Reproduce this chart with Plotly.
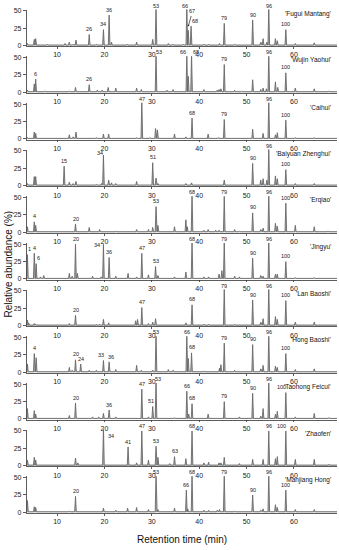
import plotly.graph_objects as go

# ---------------- data ----------------
samples = ["'Fugui Mantang'", "'Wujin Yaohui'", "'Caihui'", "'Baiyuan Zhenghui'",
           "'Erqiao'", "'Jingyu'", "'Lan Baoshi'", "'Hong Baoshi'",
           "'Taohong Feicui'", "'Zhaofen'", "'Manjiang Hong'"]

x_ticks = [10, 20, 30, 40, 50, 60]
y_ticks = [0, 25, 50]

rt_fugui = [3.75, 5.2, 5.5, 8.0, 11.7, 12.6, 13.4, 14.0, 16.8, 18.3, 19.8, 21.0, 21.5, 24.8, 26.8, 30.2, 30.9, 33.5, 34.5, 36.7, 37.4, 37.7, 38.3, 41.0, 42.0, 44.3, 45.3, 47.5, 51.3, 53.0, 53.5, 54.3, 54.7, 56.1, 56.5, 58.3, 60.3, 64.3, 67.5]
ab_fugui = [3, 9, 10, 2, 3, 5, 2, 8, 16, 2, 23, 44, 5, 2, 5, 9, 55, 3, 2, 2, 55, 22, 28, 2, 2, 3, 32, 2, 37, 5, 10, 5, 55, 10, 7, 23, 3, 4, 1.5]
pk_fugui = {16.8: "26", 19.8: "34", 21.0: "36", 30.9: "53", 37.4: "66", 37.7: "67", 38.3: "68", 45.3: "79", 51.3: "90", 54.7: "96", 58.3: "100"}

rt_wujin = [3.75, 5.2, 5.5, 7.5, 12.6, 13.9, 16.8, 18.5, 19.5, 20.8, 22.4, 26.8, 27.8, 30.9, 33.2, 34.5, 37.4, 37.7, 38.4, 41.0, 43.8, 44.2, 44.6, 45.3, 47.5, 49.0, 51.3, 53.0, 53.5, 54.2, 54.7, 56.1, 56.6, 58.3, 60.3, 64.3, 67.4]
ab_wujin = [3, 12, 19, 2, 2, 7, 11, 3, 3, 7, 6, 6, 4, 55, 3, 4, 55, 23, 55, 4, 3, 4, 5, 40, 3, 2, 18, 4, 6, 5, 55, 15, 7, 28, 6, 5, 2]
pk_wujin = {5.5: "6", 16.8: "26", 30.9: "53", 37.4: "66", 38.4: "68", 45.3: "79", 54.7: "96", 58.3: "100"}

rt_caihui = [3.75, 5.2, 5.5, 12.6, 13.4, 14.0, 18.3, 19.8, 20.9, 26.8, 27.9, 29.6, 30.8, 31.2, 34.8, 37.2, 38.5, 41.9, 44.0, 45.3, 51.3, 53.5, 54.7, 56.1, 56.5, 58.3, 60.3, 64.3]
ab_caihui = [2, 10, 8, 6, 3, 10, 2, 7, 7, 2, 55, 2, 15, 13, 7, 3, 30, 7, 2, 28, 14, 8, 55, 6, 9, 27, 2, 2]
pk_caihui = {27.9: "47", 38.5: "68", 45.3: "79", 54.7: "96", 58.3: "100"}

rt_baiyuan = [3.75, 5.2, 5.5, 11.5, 12.6, 13.4, 14.0, 18.3, 19.4, 19.8, 20.9, 21.5, 22.4, 26.8, 30.2, 30.9, 31.3, 37.2, 38.4, 45.3, 51.3, 53.0, 53.5, 54.3, 54.7, 56.1, 56.5, 58.3, 60.3, 64.3]
ab_baiyuan = [3, 13, 13, 28, 5, 3, 6, 2, 3, 44, 8, 4, 3, 6, 33, 11, 3, 3, 4, 8, 32, 8, 10, 8, 55, 14, 10, 23, 3, 3]
pk_baiyuan = {11.5: "15", 19.8: "34", 30.2: "51", 51.3: "90", 54.7: "96", 58.3: "100"}

rt_erqiao = [3.75, 5.2, 5.5, 13.9, 16.8, 19.0, 22.4, 26.8, 29.3, 30.2, 30.9, 31.3, 34.8, 37.2, 37.5, 38.5, 41.0, 41.9, 43.5, 44.2, 45.3, 47.5, 48.5, 51.3, 53.0, 53.5, 54.7, 56.1, 56.5, 58.3, 60.3, 64.3, 67.2]
ab_erqiao = [8, 15, 10, 12, 7, 4, 2, 4, 4, 7, 37, 10, 8, 18, 8, 55, 3, 4, 3, 3, 52, 4, 2, 28, 4, 6, 55, 13, 9, 42, 10, 8, 2]
pk_erqiao = {5.2: "4", 13.9: "20", 30.9: "53", 38.5: "68", 45.3: "79", 51.3: "90", 54.7: "96", 58.3: "100"}

rt_jingyu = [3.75, 5.2, 5.6, 6.5, 7.2, 12.6, 13.2, 13.9, 14.3, 17.5, 19.3, 19.8, 21.0, 22.4, 25.0, 26.8, 27.9, 29.3, 30.8, 31.3, 34.8, 37.2, 38.5, 41.0, 42.0, 44.2, 44.8, 45.3, 47.5, 48.5, 51.3, 53.0, 53.5, 54.7, 56.1, 56.5, 58.3, 60.3, 64.3]
ab_jingyu = [35, 37, 22, 3, 5, 8, 4, 50, 8, 4, 3, 50, 31, 4, 8, 3, 37, 6, 18, 5, 3, 10, 55, 3, 3, 7, 12, 55, 4, 3, 30, 5, 4, 55, 7, 7, 25, 2, 2]
pk_jingyu = {3.75: "1", 5.2: "4", 5.6: "6", 13.9: "20", 19.8: "34", 21.0: "36", 27.9: "47", 30.8: "53", 38.5: "68", 45.3: "79", 51.3: "90", 54.7: "96", 58.3: "100"}

rt_lan = [3.75, 4.0, 5.2, 5.5, 12.6, 13.9, 18.3, 19.0, 19.8, 20.9, 26.6, 27.0, 27.9, 29.3, 30.2, 30.8, 37.2, 38.5, 41.0, 42.0, 45.3, 47.5, 51.3, 53.0, 53.5, 54.7, 56.1, 56.5, 58.3, 60.3, 64.3]
ab_lan = [8, 4, 3, 2, 3, 15, 2, 2, 9, 4, 7, 9, 26, 3, 5, 10, 4, 30, 2, 2, 55, 2, 37, 5, 10, 55, 13, 9, 36, 5, 5]
pk_lan = {13.9: "20", 27.9: "47", 38.5: "68", 45.3: "79", 51.3: "90", 54.7: "96", 58.3: "100"}

rt_hong = [3.75, 5.2, 5.6, 12.6, 13.2, 13.9, 15.0, 16.8, 18.3, 19.8, 21.0, 22.4, 26.8, 27.8, 30.2, 30.9, 33.5, 34.5, 37.4, 37.7, 38.4, 41.0, 44.3, 44.6, 45.3, 47.5, 51.3, 53.0, 53.5, 54.7, 56.1, 56.5, 58.3, 60.3, 64.3]
ab_hong = [12, 27, 21, 7, 3, 18, 12, 3, 3, 17, 15, 4, 10, 3, 3, 55, 4, 3, 55, 20, 28, 2, 6, 11, 42, 3, 40, 5, 10, 55, 9, 7, 27, 4, 5]
pk_hong = {5.2: "4", 13.9: "20", 15.0: "24", 19.8: "33", 21.0: "36", 30.9: "53", 37.4: "66", 38.4: "68", 45.3: "79", 51.3: "90", 54.7: "96", 58.3: "100"}

rt_taohong = [3.75, 5.2, 5.5, 12.6, 13.9, 17.5, 18.8, 19.8, 21.0, 22.4, 27.9, 29.3, 30.2, 30.9, 34.8, 37.4, 37.8, 38.5, 41.9, 45.3, 48.5, 51.3, 53.0, 53.5, 54.7, 56.1, 56.5, 58.3, 60.3, 64.3, 67.4]
ab_taohong = [15, 12, 7, 5, 23, 3, 3, 8, 13, 3, 43, 3, 18, 55, 2, 40, 7, 22, 7, 25, 3, 37, 4, 15, 55, 7, 11, 38, 3, 8, 2]
pk_taohong = {13.9: "20", 21.0: "36", 27.9: "47", 30.2: "51", 30.9: "53", 37.4: "66", 38.5: "68", 45.3: "79", 51.3: "90", 54.7: "96", 58.3: "100"}

rt_zhaofen = [3.75, 5.2, 5.5, 13.9, 14.4, 19.8, 25.0, 26.8, 27.9, 29.3, 30.9, 31.3, 33.8, 34.8, 37.2, 38.5, 41.0, 42.0, 44.2, 44.6, 45.3, 48.5, 51.3, 53.5, 54.7, 56.1, 56.5, 58.3, 60.3, 64.3, 67.4]
ab_zhaofen = [8, 12, 8, 11, 4, 55, 27, 4, 50, 8, 28, 12, 3, 13, 10, 50, 4, 5, 4, 4, 12, 3, 9, 9, 50, 10, 13, 50, 9, 9, 2]
pk_zhaofen = {19.8: "34", 25.0: "41", 27.9: "47", 30.9: "53", 34.8: "63", 38.5: "68", 54.7: "96", 58.3: "100"}

rt_manjiang = [3.75, 5.2, 5.5, 12.6, 13.9, 19.8, 22.4, 24.9, 26.8, 29.3, 30.9, 31.3, 34.8, 37.3, 37.6, 38.5, 41.0, 42.0, 43.8, 44.3, 45.3, 47.5, 51.3, 53.0, 53.5, 54.7, 56.1, 56.5, 58.3, 60.3, 64.3]
ab_manjiang = [17, 8, 7, 2, 23, 6, 3, 6, 7, 4, 55, 4, 6, 32, 5, 55, 3, 3, 3, 4, 55, 2, 25, 3, 5, 55, 11, 7, 32, 4, 4]
pk_manjiang = {13.9: "20", 30.9: "53", 37.3: "66", 38.5: "68", 45.3: "79", 51.3: "90", 54.7: "96", 58.3: "100"}

series = [
    (rt_fugui, ab_fugui, pk_fugui), (rt_wujin, ab_wujin, pk_wujin),
    (rt_caihui, ab_caihui, pk_caihui), (rt_baiyuan, ab_baiyuan, pk_baiyuan),
    (rt_erqiao, ab_erqiao, pk_erqiao), (rt_jingyu, ab_jingyu, pk_jingyu),
    (rt_lan, ab_lan, pk_lan), (rt_hong, ab_hong, pk_hong),
    (rt_taohong, ab_taohong, pk_taohong), (rt_zhaofen, ab_zhaofen, pk_zhaofen),
    (rt_manjiang, ab_manjiang, pk_manjiang),
]

# ---------------- styling / layout ----------------
W, H = 339, 550
FONT = "Arial, Liberation Sans, sans-serif"
X_RANGE = [3.6, 69.1]
Y_RANGE = [-1, 52]
X_DOM_PX = (26.7, 337.0)
ZERO0, STEP, PX_PER_UNIT = 44.0, 47.1, 0.7
HALF_W = 0.17
BASE = 0.8
LINE_C, FILL_C, AX_C = "#686868", "#b0b0b0", "#333333"

# label nudges in pixels: (panel index, label) -> (xshift, yshift)
nudges = {(0, "66"): (-2, 0), (0, "68"): (4, 0), (1, "66"): (-4, 0), (1, "68"): (4, 0),
          (1, "53"): (3, 0), (3, "34"): (-3, -3), (5, "1"): (2, 0), (5, "6"): (2, 0),
          (5, "34"): (-6, -6), (9, "34"): (8, -10), (8, "100"): (-4, 0), (9, "100"): (-4, 0),
          (8, "51"): (-2, 0), (8, "53"): (2, 0), (7, "33"): (-2, 0), (7, "36"): (2, 0)}

fig = go.Figure()
layout = {}
annotations = []
for i, (rt, ab, pk) in enumerate(series):
    k = "" if i == 0 else str(i + 1)
    zero = ZERO0 + STEP * i
    bot_px = zero - Y_RANGE[0] * PX_PER_UNIT
    top_px = zero - Y_RANGE[1] * PX_PER_UNIT
    ydom = [1 - bot_px / H, 1 - top_px / H]

    order = sorted(range(len(rt)), key=lambda j: rt[j])
    xs, ys = [X_RANGE[0]], [BASE]
    for j in order:
        xs += [rt[j] - HALF_W, rt[j], rt[j] + HALF_W]
        ys += [BASE, ab[j], BASE]
    xs.append(X_RANGE[1]); ys.append(BASE)
    fig.add_trace(go.Scatter(x=xs, y=ys, xaxis="x" + k, yaxis="y" + k, mode="lines",
                             line=dict(color=LINE_C, width=0.9), fill="tozeroy",
                             fillcolor=FILL_C, hoverinfo="skip", showlegend=False))

    layout["xaxis" + k] = dict(domain=[X_DOM_PX[0] / W, X_DOM_PX[1] / W], range=X_RANGE,
                               anchor="y" + k, tickvals=x_ticks, ticks="outside", ticklen=2,
                               tickcolor=AX_C, tickwidth=0.8, showline=True, linecolor=AX_C,
                               linewidth=0.8, showgrid=False, zeroline=False,
                               tickfont=dict(size=7, color="#222", family=FONT))
    layout["yaxis" + k] = dict(domain=ydom, range=Y_RANGE, anchor="x" + k, tickvals=y_ticks,
                               ticks="outside", ticklen=3, tickcolor=AX_C, tickwidth=0.8,
                               showline=True, linecolor=AX_C, linewidth=0.8, showgrid=False,
                               zeroline=False, tickfont=dict(size=7, color="#222", family=FONT))

    # sample name
    annotations.append(dict(x=68.3, y=46, xref="x" + k, yref="y" + k, text=samples[i],
                            showarrow=False, xanchor="right", yanchor="middle",
                            font=dict(size=6.5, color="#111", family=FONT)))
    # peak labels
    for t, lab in pk.items():
        h = ab[rt.index(t)]
        if i == 0 and lab == "67":
            annotations.append(dict(x=t + 0.05, y=29, xref="x" + k, yref="y" + k, text=lab,
                                    showarrow=True, arrowhead=7, arrowsize=0.5, arrowwidth=0.7,
                                    arrowcolor="#222", ax=4, ay=-14, standoff=0,
                                    font=dict(size=5.5, color="#222", family=FONT)))
            continue
        dx, dy = nudges.get((i, lab), (0, 0))
        annotations.append(dict(x=t, y=min(h, 50) + 2, xref="x" + k, yref="y" + k, text=lab,
                                showarrow=False, xanchor="center", yanchor="bottom",
                                borderpad=0, xshift=dx, yshift=dy,
                                font=dict(size=5.5, color="#222", family=FONT)))

annotations.append(dict(x=9 / W, y=1 - 265 / H, xref="paper", yref="paper",
                        text="Relative abundance (%)", textangle=-90, showarrow=False,
                        xanchor="center", yanchor="middle",
                        font=dict(size=10, color="#111", family=FONT)))
annotations.append(dict(x=(X_DOM_PX[0] + X_DOM_PX[1]) / 2 / W, y=1 - 542 / H, xref="paper",
                        yref="paper", text="Retention time (min)", showarrow=False,
                        xanchor="center", yanchor="middle",
                        font=dict(size=10, color="#111", family=FONT)))

fig.update_layout(width=W, height=H, margin=dict(l=0, r=0, t=0, b=0),
                  plot_bgcolor="white", paper_bgcolor="white", hovermode=False,
                  annotations=annotations, **layout)
fig.write_html("out.html", config={"displayModeBar": False, "staticPlot": True},
               post_script="document.body.style.margin='0';document.body.style.overflow='hidden';")
